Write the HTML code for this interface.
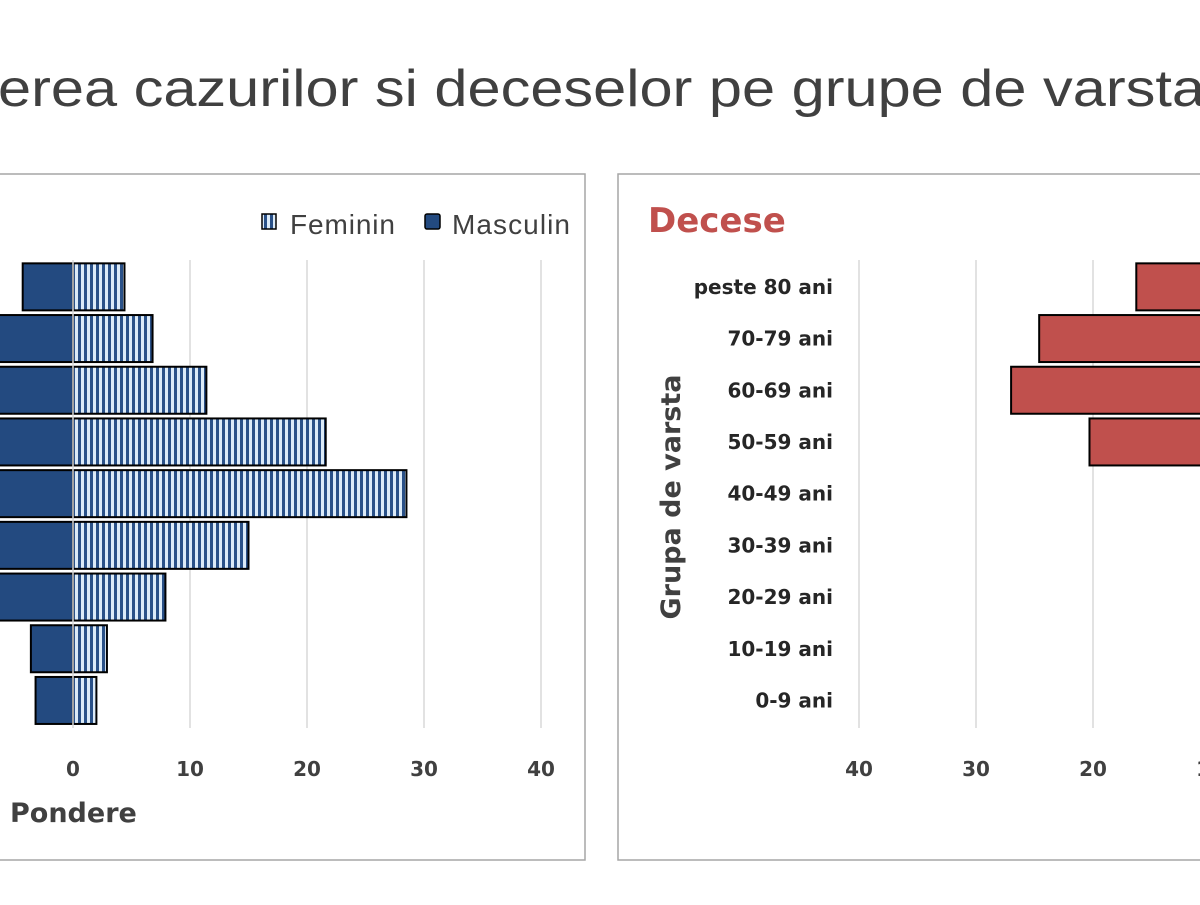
<!DOCTYPE html>
<html><head><meta charset="utf-8"><style>
body{margin:0;background:#fff;width:1200px;height:900px;overflow:hidden;font-family:"Liberation Sans",sans-serif}
svg text{font-family:"DejaVu Sans","Liberation Sans",sans-serif}
</style></head><body>
<svg id="s" width="1200" height="900" xmlns="http://www.w3.org/2000/svg">
<defs>
<pattern id="stripes" width="6" height="10" patternUnits="userSpaceOnUse">
<rect width="6" height="10" fill="#dcebf8"/><rect width="3" height="10" fill="#2a5188"/>
</pattern>
</defs>
<text x="-2" y="106" font-size="52" fill="#404040" textLength="1207" lengthAdjust="spacingAndGlyphs" style="font-family:'Liberation Sans',sans-serif">erea cazurilor si deceselor pe grupe de varsta</text>
<rect x="-5" y="174" width="590" height="686" fill="#fff" stroke="#a6a6a6" stroke-width="1.5"/>
<rect x="618" y="174" width="600" height="686" fill="#fff" stroke="#a6a6a6" stroke-width="1.5"/>
<g id="left"></g><g id="right"></g>
<rect x="262" y="214" width="14" height="15" fill="url(#stripes)" stroke="#000" stroke-width="1.5"/>
<text x="290" y="234" font-size="28" fill="#404040" textLength="105" style="font-family:'Liberation Sans',sans-serif">Feminin</text>
<rect x="425" y="214" width="15" height="15" rx="2" fill="#234a80" stroke="#000" stroke-width="1.5"/>
<text x="452" y="234" font-size="28" fill="#404040" textLength="118" style="font-family:'Liberation Sans',sans-serif">Masculin</text>
<text x="10" y="822" font-size="27" font-weight="bold" fill="#404040">Pondere</text>
<text x="648" y="232" font-size="34" font-weight="bold" fill="#c0504d">Decese</text>
<text transform="translate(680,497) rotate(-90)" text-anchor="middle" font-size="27" font-weight="bold" fill="#404040">Grupa de varsta</text>
</svg>
<script>
const categories=["peste 80 ani","70-79 ani","60-69 ani","50-59 ani","40-49 ani","30-39 ani","20-29 ani","10-19 ani","0-9 ani"];
const feminin=[4.4,6.8,11.4,21.6,28.5,15.0,7.9,2.9,2.0];
const masculin=[-4.3,-10,-10,-10,-10,-10,-10,-3.6,-3.2];
const decese=[16.3,24.6,27.0,20.3,0,0,0,0,0];
const ticksLeft=[0,10,20,30,40];
const ticksRight=[40,30,20,10];
const NS="http://www.w3.org/2000/svg";
const top0=261,band=51.7,barH=47;
const xL=v=>73+v*11.7;
const xR=v=>1327-v*11.7;
const yB=i=>top0+i*band+(band-barH)/2;
function mk(t,a,p){const e=document.createElementNS(NS,t);for(const k in a)e.setAttribute(k,a[k]);p.appendChild(e);return e;}
const L=document.getElementById('left'),R=document.getElementById('right');
ticksLeft.forEach(t=>{
 if(t>0){const g=mk('line',{x1:xL(t),x2:xL(t),y1:260,y2:728,stroke:'#d9d9d9','stroke-width':1.5},L);
 
 }
 const tx=mk('text',{x:xL(t),y:776,'text-anchor':'middle','font-size':20,'font-weight':'bold',fill:'#404040'},L);tx.textContent=t;
 
 
});
categories.forEach((c,i)=>{
 const m=mk('rect',{x:xL(masculin[i]),y:yB(i),width:xL(0)-xL(masculin[i]),height:barH,fill:'#234a80',stroke:'#000','stroke-width':2},L);
 
 
 const f=mk('rect',{x:xL(0),y:yB(i),width:xL(feminin[i])-xL(0),height:barH,fill:'url(#stripes)',stroke:'#000','stroke-width':2},L);
 
 
});
mk('line',{x1:xL(0),x2:xL(0),y1:260,y2:728,stroke:'#d9d9d9','stroke-width':1.5},L);
ticksRight.forEach(t=>{
 const g=mk('line',{x1:xR(t),x2:xR(t),y1:260,y2:728,stroke:'#d9d9d9','stroke-width':1.5},R);
 
 
 const tx=mk('text',{x:xR(t),y:776,'text-anchor':'middle','font-size':20,'font-weight':'bold',fill:'#404040'},R);tx.textContent=t;
 
 
});
categories.forEach((c,i)=>{
 const tx=mk('text',{x:833,y:yB(i)+barH/2+7,'text-anchor':'end','font-size':20,'font-weight':'bold',fill:'#262626'},R);tx.textContent=c;
 
 
 if(decese[i]>0){const b=mk('rect',{x:xR(decese[i]),y:yB(i),width:xR(0)-xR(decese[i]),height:barH,fill:'#c0504d',stroke:'#000','stroke-width':2},R);
 
 }
});
</script>
</body></html>
